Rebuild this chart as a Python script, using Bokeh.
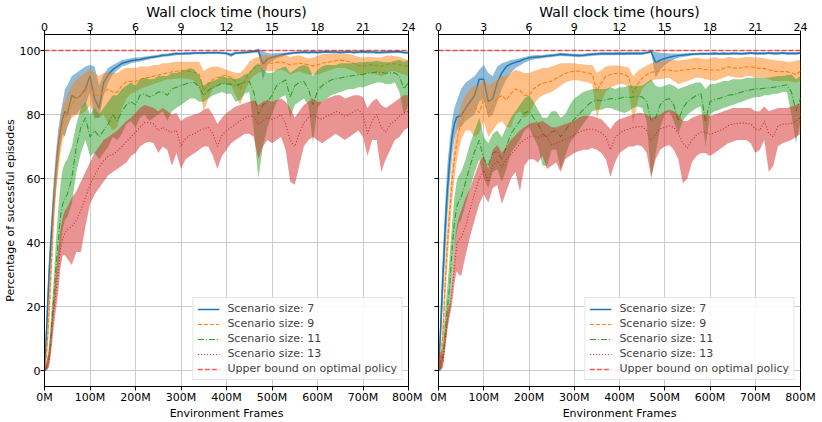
from bokeh.plotting import figure
from bokeh.models import Range1d, LinearAxis, FixedTicker, Legend, LegendItem
from bokeh.layouts import row
from bokeh.embed import file_html
from bokeh.resources import INLINE

FONT = "DejaVu Sans"

FRAMES = [0, 5, 10, 15, 20, 25, 30, 35, 40, 45,
          50, 60, 70, 80, 90, 100, 110, 120, 130, 140,
          150, 160, 170, 180, 190, 200, 210, 220, 230, 240,
          250, 260, 270, 280, 290, 300, 310, 320, 330, 340,
          350, 360, 370, 380, 390, 400, 410, 420, 430, 440,
          450, 460, 470, 480, 490, 500, 510, 520, 530, 540,
          550, 560, 570, 580, 590, 600, 610, 620, 630, 640,
          650, 660, 670, 680, 690, 700, 710, 720, 730, 740,
          750, 760, 770, 780, 790, 800]

FRAME_TICKS = [0, 100, 200, 300, 400, 500, 600, 700, 800]
FRAME_TICK_LABELS = ["0M", "100M", "200M", "300M", "400M", "500M", "600M", "700M", "800M"]
HOUR_RANGE = [0, 24]
HOUR_TICKS = [0, 3, 6, 9, 12, 15, 18, 21, 24]
Y_TICKS = [0, 20, 40, 60, 80, 100]
Y_RANGE = [-5, 105]
UPPER_BOUND = 100

SERIES_NAMES = ["Scenario size: 7", "Scenario size: 9", "Scenario size: 11", "Scenario size: 13"]
UPPER_NAME = "Upper bound on optimal policy"
X_LABEL = "Environment Frames"
TOP_LABEL = "Wall clock time (hours)"
Y_LABEL = "Percentage of sucessful episodes"

# ---------------- left panel ----------------
L7_MEAN = [0, 14, 30, 42, 53, 62, 70, 75, 79, 81,
           80, 86, 85, 86, 88, 92, 85, 82, 90, 92.5,
           94, 95, 96, 96.4, 96.8, 97, 97.2, 97.5, 97.8, 98,
           98.2, 98.5, 98.6, 98.8, 99, 99, 99.1, 99.1, 99.2, 99.2,
           99.2, 99.3, 99.3, 99.3, 99.2, 99.1, 98.6, 99.2, 99.3, 99.4,
           99.5, 99.7, 99.9, 95.8, 97.3, 97.9, 98.3, 98.6, 98.9, 99.1,
           99.3, 99.4, 99.5, 99.4, 99.5, 99.4, 99.5, 99.6, 99.5, 99.5,
           99.4, 99.5, 99.6, 99.4, 99.5, 99.6, 99.5, 99.5, 99.4, 99.4,
           99.5, 99.5, 99.6, 99.6, 99.4, 99.3]
L7_LO = [0, 9, 24, 36, 47, 56, 64, 70, 74, 73,
         76, 80, 80, 82, 83, 87, 79, 79, 86, 90,
         92.5, 93.8, 95, 95.5, 96, 96.3, 96.6, 96.9, 97.2, 97.5,
         97.7, 98, 98.1, 98.3, 98.5, 98.6, 98.7, 98.7, 98.8, 98.8,
         98.8, 98.9, 98.9, 98.9, 98.8, 98.7, 98, 98.8, 98.9, 99,
         99.1, 99.3, 99.3, 90.8, 95.5, 96.8, 97.5, 98, 98.4, 98.7,
         98.9, 99, 99.1, 99, 99.1, 99, 99.1, 99.2, 99.1, 99.1,
         99, 99.1, 99.2, 99, 99.1, 99.2, 99.1, 99.1, 99, 99,
         99.1, 99.1, 99.2, 99.2, 99, 98.9]
L7_HI = [0, 20, 36, 48, 59, 68, 75, 80, 84, 88,
         89, 92, 93, 94, 95, 95.5, 95, 89, 92.5, 94.5,
         95.5, 96.2, 97, 97.3, 97.6, 97.8, 97.9, 98.1, 98.3, 98.5,
         98.7, 99, 99.1, 99.3, 99.5, 99.4, 99.5, 99.5, 99.6, 99.6,
         99.6, 99.7, 99.7, 99.7, 99.6, 99.5, 99.2, 99.6, 99.7, 99.8,
         99.9, 100.1, 100.6, 99.8, 99.2, 99.1, 99.2, 99.3, 99.4, 99.5,
         99.7, 99.8, 99.9, 99.8, 99.9, 99.8, 99.9, 100, 99.9, 99.9,
         99.8, 99.9, 100, 99.8, 99.9, 100, 99.9, 99.9, 99.8, 99.8,
         99.9, 99.9, 100, 100, 99.8, 99.7]

L9_MEAN = [0, 6, 19, 33, 49, 60, 67, 73, 77, 79,
           81, 83, 85, 86, 87, 89, 86, 86, 87, 88,
           87, 87, 89, 90.3, 90.3, 90.3, 91, 91.4, 91.6, 92,
           92.3, 92.7, 93, 93.3, 93.5, 93.8, 93.6, 93.4, 93.2, 92.5,
           87.5, 89.5, 91, 91.5, 92, 92.3, 91.5, 90.3, 88, 90.5,
           93, 94.4, 95.3, 95.5, 96, 96, 96.3, 96.5, 96, 95.5,
           95.8, 96, 95.8, 95.5, 95.2, 95.5, 96, 96.3, 96.5, 96.8,
           97, 96.8, 96.5, 96, 95.3, 95, 95.5, 95.5, 95.2, 95,
           95.5, 96, 95.8, 95.5, 95.2, 95]
L9_LO = [0, 3, 13, 27, 43, 55, 62, 68, 72, 74,
         76, 79, 80, 80, 81, 83, 79, 79, 80, 77,
         75, 76, 82, 85, 86.5, 87, 88, 88.5, 89, 89.5,
         90, 90.5, 91, 91, 91.2, 91.3, 91.2, 91, 90.5, 88.5,
         81, 85, 88, 89, 89.5, 89.5, 89, 86, 83, 87,
         90.5, 92, 93, 93.5, 93.5, 93.5, 93.8, 94, 93.5, 92.5,
         93, 93.5, 93, 92.5, 92.5, 92.5, 93, 93.5, 94, 94.5,
         94.5, 94.5, 94, 93.5, 92.5, 92, 93, 93, 92.5, 92,
         92.5, 93.5, 93.5, 93, 92.5, 92]
L9_HI = [0, 9, 25, 40, 55, 66, 72, 78, 82, 84,
         86, 89, 91, 92, 93, 94, 93, 92, 93, 93,
         93, 93, 94, 94.5, 94.5, 94.5, 95, 95, 95, 95.5,
         95.5, 96, 96, 96.3, 96.5, 96.5, 96.5, 96.5, 96.5, 96.5,
         93.5, 94.5, 95, 95, 94.5, 94, 93.5, 93, 93, 94.5,
         96.5, 97.5, 98, 98.5, 98.5, 98.3, 98.5, 98.8, 98.5, 98,
         98.3, 98.5, 98, 97.5, 97.8, 98.3, 98.8, 99, 99, 99,
         99, 99, 98.8, 98.5, 98, 97.8, 98, 98, 97.8, 97.8,
         98.3, 98.5, 98.2, 98, 97.5, 97]

L11_MEAN = [0, 1, 4, 13, 22, 32, 40, 48, 52, 54,
            55, 60, 70, 76, 79, 73, 75, 73, 75, 77,
            80, 78, 81, 83, 84, 83, 86, 86.5, 85.5, 86,
            87, 87, 86, 88, 88.5, 89, 89.5, 90, 90, 88.5,
            86, 87.5, 88.5, 89, 89.8, 89.5, 89.5, 89, 89.5, 90,
            90.3, 87, 80, 83, 84, 86, 89, 90, 90.8, 85.5,
            89, 90, 90.3, 88, 83, 87.5, 89, 90, 90.8, 91.2,
            91.4, 91.7, 92, 92.2, 92.4, 92.6, 92.9, 93, 93.3, 93.2,
            92.9, 93, 93, 92, 88, 90]
L11_LO = [0, 0, 2, 8, 17, 25, 32, 38, 44, 47,
          48, 52, 62, 68, 72, 67, 68, 66, 68, 70,
          73, 72, 74, 77, 78, 76, 79, 80, 78, 79,
          80, 81, 78, 81, 82, 83, 84, 85, 85, 84,
          84, 85, 86, 86.5, 87, 86.5, 86.5, 84, 84.5, 86.5,
          87, 75, 60, 70, 76, 80, 84, 85.5, 86, 79,
          83, 84, 85, 83, 71, 82, 84, 85, 86, 86.5,
          87, 87.5, 88, 88, 88.5, 88.5, 89, 89.5, 90, 90,
          89.5, 89.5, 90, 87, 80, 83]
L11_HI = [0, 3, 8, 18, 28, 40, 50, 58, 63, 65,
          66, 70, 77, 82, 84, 80, 82, 80, 82, 84,
          86, 86, 88, 89, 90, 89, 91, 91.5, 91, 91,
          92, 92, 92, 93, 93, 93.5, 94, 94.5, 94, 92,
          89, 90, 90.5, 91, 92, 91.5, 91.5, 91, 91.5, 92.5,
          93, 95, 96, 94, 93, 93, 94, 94.5, 95, 93,
          94, 95, 95.5, 95, 92, 94, 95, 95.5, 95.5, 95.5,
          96, 96, 96, 96, 96.3, 96.3, 96.5, 96.5, 96.8, 96.5,
          96.3, 96.3, 96.8, 97, 96.5, 97]

L13_MEAN = [0, 1, 3, 10, 18, 24, 30, 38, 41, 43,
            44, 45, 47, 50, 54, 58, 61, 63.5, 65.5, 67,
            67.5, 68.5, 70, 71.5, 73, 74.5, 76, 77.5, 77.5, 77,
            75, 76, 75, 74.5, 75, 70, 72.5, 73.5, 74, 75,
            75.5, 76, 74, 70, 73.5, 75, 76, 77, 78, 79,
            79.5, 79.5, 77, 78, 79, 78.5, 79, 80, 77, 72,
            70, 74, 77.5, 79, 80, 79, 78.5, 79.5, 80, 81,
            80.5, 79.5, 80, 81, 81.5, 80, 74, 78, 80, 76,
            74.5, 77, 78, 79.5, 80.5, 81]
L13_LO = [0, 0, 1, 6, 13, 19, 24, 32, 36, 36,
          35, 33, 37, 37, 45, 52, 55, 57, 59, 61,
          62, 63, 64, 65, 67, 68, 70, 71, 71.5, 71,
          68, 70, 69, 64, 68, 63, 66, 67, 68, 69,
          70, 70, 67, 63, 67, 69, 71, 72, 73, 74,
          74, 73, 66, 70, 72, 71, 72, 73, 69, 59,
          58, 64, 70, 72, 73, 72, 71, 72, 73, 74,
          73, 72, 73, 74, 75, 73, 67, 72, 72, 62,
          66, 69, 72, 73, 75, 76]
L13_HI = [1, 3, 6, 14, 22, 30, 37, 44, 48, 50,
          51, 54, 56, 59, 62, 65, 68, 70, 72, 73,
          74, 75, 76.5, 78, 79, 80.5, 82, 83, 82.5, 82,
          81, 82, 81, 80, 80.5, 78, 79, 79.5, 80, 80.5,
          81.5, 82, 80, 77, 79, 80.5, 81.5, 82.5, 83, 83.5,
          84, 84.5, 83, 84, 84.5, 84, 84.5, 85, 84, 82,
          79, 81, 83, 84, 85, 84, 84, 85, 85.5, 86,
          86, 85, 85.5, 86, 86, 85.5, 82, 84, 85, 83,
          82, 83, 84, 85, 86, 86]

# ---------------- right panel ----------------
R7_MEAN = [0, 14, 30, 45, 57, 66, 73, 77, 79, 79.5,
           79.5, 82, 84, 86, 91, 91, 84, 85, 90, 93,
           95, 95.8, 96.3, 96.7, 97.3, 97.7, 97.9, 98, 98.1, 98.3,
           98.4, 98.6, 98.8, 98.7, 98.6, 98.5, 98.4, 98.5, 98.7, 98.8,
           98.9, 99, 99, 99, 99, 99.1, 99, 99.1, 99.1, 99.1,
           99.1, 99.3, 99.6, 96.2, 97, 97.5, 97.9, 98.2, 98.4, 98.6,
           98.7, 98.8, 98.9, 99, 99, 99, 99.1, 99, 99.1, 99,
           99.1, 99.1, 99, 99.1, 99.2, 99.1, 99.1, 99.1, 99.2, 99.1,
           99.1, 99.2, 99.1, 99.1, 99.1, 99.2]
R7_LO = [0, 8, 22, 36, 49, 59, 67, 72, 75, 76,
         76, 78, 79, 80, 84, 85, 79, 80, 84, 88,
         91, 93, 94.5, 95.3, 96.2, 96.8, 97.2, 97.4, 97.6, 97.8,
         97.9, 98.1, 98.3, 98.2, 98.1, 98, 97.9, 98, 98.2, 98.3,
         98.4, 98.5, 98.5, 98.5, 98.5, 98.6, 98.5, 98.6, 98.6, 98.6,
         98.6, 98.9, 99.2, 91.5, 94, 95.5, 96.5, 97.2, 97.7, 98,
         98.2, 98.4, 98.5, 98.6, 98.6, 98.6, 98.7, 98.6, 98.7, 98.6,
         98.7, 98.7, 98.6, 98.7, 98.8, 98.7, 98.7, 98.7, 98.8, 98.7,
         98.7, 98.8, 98.7, 98.7, 98.7, 98.8]
R7_HI = [0, 22, 38, 53, 65, 72, 78, 82, 84, 86,
         88, 90, 91, 92, 94, 95.5, 93, 92, 95, 96,
         96.5, 97, 97.3, 97.6, 98, 98.3, 98.5, 98.6, 98.6, 98.8,
         98.9, 99.1, 99.3, 99.2, 99.1, 99, 98.9, 99, 99.2, 99.3,
         99.4, 99.5, 99.5, 99.5, 99.5, 99.6, 99.5, 99.6, 99.6, 99.6,
         99.6, 99.7, 100.3, 99.5, 99.3, 99.2, 99.1, 99.1, 99.1, 99.1,
         99.2, 99.2, 99.3, 99.4, 99.4, 99.4, 99.5, 99.4, 99.5, 99.4,
         99.5, 99.5, 99.4, 99.5, 99.6, 99.5, 99.5, 99.5, 99.6, 99.5,
         99.5, 99.6, 99.5, 99.5, 99.5, 99.6]

R9_MEAN = [0, 3, 12, 28, 40, 50, 59, 66, 71, 75,
           77.5, 80, 81.5, 82.5, 80.5, 85, 80, 83, 85, 86,
           84.5, 86.5, 88, 87.5, 86, 86, 88, 89, 89.8, 90,
           90.5, 91.3, 92, 92.8, 93.3, 93.5, 93.6, 93.3, 93, 92.5,
           87.2, 90, 92, 92.5, 92.8, 92.9, 92.5, 91.8, 86.7, 89.5,
           91.3, 92.4, 93.2, 93.4, 93.7, 93.9, 93.9, 93.6, 93.6, 93.9,
           94, 94.2, 94.4, 94.3, 94, 93.9, 93.9, 93.9, 94.4, 94.9,
           94.6, 94.4, 94.6, 94.9, 94.9, 94.6, 94.4, 94.4, 94, 93.6,
           93.4, 93.4, 93.4, 93, 92.5, 93.5]
R9_LO = [0, 1, 8, 22, 34, 44, 53, 60, 65, 69,
         72, 75, 75, 73, 74, 78, 73, 75, 77, 78,
         76, 76, 80, 81, 79, 80, 83, 85, 86, 86.5,
         87, 88, 89, 90, 90.5, 90.8, 90.6, 90.3, 90, 89.5,
         78.5, 84, 87, 88.5, 89, 89.5, 89.5, 88.5, 77, 84,
         88, 89.5, 90.5, 91, 91, 91.3, 91.5, 90.5, 89.5, 90,
         90.5, 91, 91.5, 91.5, 91, 90.8, 90.5, 91, 91.5, 92,
         91.8, 91.5, 91.5, 92, 92, 91.5, 91.5, 91.5, 91, 90.5,
         90.5, 90.5, 90.5, 90.3, 90, 90.5]
R9_HI = [1, 6, 17, 34, 46, 56, 65, 71, 76, 80,
         83, 86, 88, 89, 89, 91, 89, 90, 91, 92,
         92, 93, 94, 93.5, 93, 93, 93.5, 94, 94.5, 94.5,
         95, 95.5, 96, 96, 96, 96, 95.8, 95.6, 95.5, 95.5,
         93, 94, 95, 95.3, 95.3, 95.3, 95, 94.8, 92, 93.5,
         94.5, 95.2, 96, 96.3, 96.5, 96.8, 97, 97, 96.8, 97,
         97.2, 97.5, 97.8, 97.5, 97.3, 97.5, 98, 97.5, 97.5, 98,
         97.8, 97.5, 97.8, 98, 98, 97.8, 97.8, 97.6, 97.3, 97,
         96.8, 96.8, 96.5, 96.5, 96.8, 97]

R11_MEAN = [0, 1, 5, 13, 20, 27, 38, 46, 51, 53,
            54, 59, 64, 68.5, 72, 66, 64, 68, 68.5, 66,
            70, 74, 76, 78, 80.5, 81, 79, 77, 74, 73,
            74.5, 75, 73, 75, 77, 78.5, 80, 81.5, 83, 84,
            84.5, 84.3, 84.6, 85, 84.7, 85, 85.5, 85.3, 85.5, 85.7,
            85.5, 84, 78, 79, 83, 84.5, 85, 83, 78, 82,
            84, 85, 86, 86.5, 78, 84, 84.6, 85, 85.5, 86,
            86.2, 86.5, 87, 87.5, 87.7, 88, 88, 88.2, 88.3, 88.5,
            88.7, 89, 89.3, 87, 81, 85]
R11_LO = [0, 0, 2, 8, 14, 20, 30, 38, 43, 46,
          47, 52, 57, 62, 66, 60, 57, 62, 63, 59,
          63, 68, 70, 72, 75, 76, 73, 70, 64, 64,
          69, 69, 63, 67, 71, 73, 75, 77, 79, 81,
          81.5, 81.5, 82, 82, 81.5, 81, 80.5, 81, 82, 82.5,
          82, 78, 60, 68, 76, 80, 81, 78, 74, 78,
          80, 81, 82, 82.5, 70, 80, 81, 81.5, 82, 82.5,
          83, 83.5, 84, 84.5, 85, 85.5, 85.5, 86, 86, 86.5,
          86.5, 87, 87, 80, 71, 78]
R11_HI = [1, 3, 9, 19, 27, 36, 46, 54, 59, 61,
          62, 66, 71, 75, 79, 73, 71, 74, 75, 73,
          76, 79, 81, 83, 85, 86, 84, 81.5, 79, 79,
          81, 81, 79, 80, 83, 85, 86, 87, 87.5, 88,
          88, 88, 88, 88.5, 88, 88.5, 88.5, 89, 89, 89,
          89, 90, 91, 89, 88.5, 89, 89.5, 89, 88, 88.5,
          89, 89.5, 90, 90, 88, 89.5, 89.5, 90, 90.5, 90.5,
          91, 91, 91, 91.5, 91.5, 91.5, 91.5, 91.5, 91.5, 91.8,
          92, 92, 92.3, 92.5, 91, 92]

R13_MEAN = [0, 3, 3, 10, 16, 19, 25, 32, 39, 41,
            41.5, 45, 50.5, 55.5, 60, 62.5, 59, 64, 65.5, 63.5,
            66, 67.5, 69, 71, 72, 73, 73.3, 72.8, 73.5, 73,
            70.5, 71, 71.5, 72.3, 72.8, 73.5, 74.5, 75, 75.4, 75.4,
            75, 74.2, 73, 69, 72.8, 74.2, 75, 75.4, 75.9, 76.2,
            76.2, 75, 71.8, 74, 75.5, 76, 76.4, 76, 74, 71,
            69.5, 72, 73.5, 74.5, 74.5, 73.8, 74.3, 74.9, 75.5, 76.5,
            77, 77.2, 77.4, 77.2, 77, 75.5, 75, 78, 74, 73,
            76.4, 77, 77, 77.2, 78, 79]
R13_LO = [0, 0, 1, 7, 13, 17, 21, 27, 31, 30,
          29.5, 36, 42, 47, 52, 55, 52.5, 57, 58, 52,
          56, 60, 62, 56, 64, 66, 66, 65, 67, 63,
          64, 65, 62, 66, 67, 68, 68.5, 69, 69, 69.5,
          69, 68, 66, 60.5, 65, 68, 69, 70, 70, 70.5,
          70, 68, 60.5, 66, 69, 70, 70.5, 69, 66, 58.5,
          60, 65, 67, 68, 68, 67, 68, 69, 70, 71,
          71.5, 72, 72, 72, 71, 68, 69, 72, 62, 64,
          70, 71, 71.5, 72, 73, 74]
R13_HI = [5, 6, 5, 13, 19, 21, 29, 38, 45, 48,
          50, 54, 57, 61, 65, 67, 63, 69, 70.5, 68,
          70, 72, 73.5, 75, 76, 77, 77.5, 77.5, 78, 77,
          76, 76, 76.5, 77, 77.5, 78, 79, 79.5, 79.5, 79.5,
          79, 78.5, 77, 75.5, 77.5, 78.5, 79, 79.5, 80, 80.5,
          80.5, 80, 79, 79.5, 80, 81, 81.5, 81, 80, 78,
          78, 79, 79.5, 80, 80, 79.5, 80, 80.5, 81, 81.5,
          82, 82, 82, 82, 82, 81, 81, 82.5, 81, 81.5,
          82, 82, 82, 82.5, 83, 83.5]

LEFT = [(L7_MEAN, L7_LO, L7_HI), (L9_MEAN, L9_LO, L9_HI),
        (L11_MEAN, L11_LO, L11_HI), (L13_MEAN, L13_LO, L13_HI)]
RIGHT = [(R7_MEAN, R7_LO, R7_HI), (R9_MEAN, R9_LO, R9_HI),
         (R11_MEAN, R11_LO, R11_HI), (R13_MEAN, R13_LO, R13_HI)]

COLORS = ["#1f77b4", "#ff7f0e", "#2ca02c", "#d62728"]
DASHES = ["solid", "4 2", "6 2 1 2", "1 2"]
WIDTHS = [1.5, 1.1, 1.1, 1.1]

H = 422


def style_axis(ax, label_size="11px"):
    ax.major_tick_out = 4
    ax.major_tick_in = 0
    ax.minor_tick_out = 0
    ax.minor_tick_in = 0
    ax.major_tick_line_color = "black"
    ax.axis_line_color = "black"
    ax.major_label_text_font = FONT
    ax.major_label_text_font_size = "11px"
    ax.major_label_text_color = "black"
    ax.axis_label_text_font = FONT
    ax.axis_label_text_font_style = "normal"
    ax.axis_label_text_font_size = label_size
    ax.axis_label_text_color = "black"
    ax.major_label_standoff = 0
    ax.axis_label_standoff = 0


def build_panel(data, show_y, width, border_left, border_right):
    p = figure(width=width, height=H,
               x_range=Range1d(FRAME_TICKS[0], FRAME_TICKS[-1]),
               y_range=Range1d(Y_RANGE[0], Y_RANGE[1]),
               output_backend="svg", toolbar_location=None,
               min_border_left=border_left, min_border_right=border_right,
               min_border_top=30, min_border_bottom=30)
    p.outline_line_color = "black"
    p.outline_line_width = 1
    p.background_fill_color = "white"
    p.border_fill_color = "white"

    p.extra_x_ranges = {"hours": Range1d(HOUR_RANGE[0], HOUR_RANGE[1])}
    top = LinearAxis(x_range_name="hours", ticker=FixedTicker(ticks=HOUR_TICKS),
                     axis_label=TOP_LABEL)
    p.add_layout(top, "above")
    style_axis(top, "14px")

    bottom = p.below[0]
    bottom.ticker = FixedTicker(ticks=FRAME_TICKS)
    bottom.major_label_overrides = dict(zip(FRAME_TICKS, FRAME_TICK_LABELS))
    bottom.axis_label = X_LABEL
    style_axis(bottom)

    left = p.left[0]
    left.ticker = FixedTicker(ticks=Y_TICKS)
    style_axis(left)
    if show_y:
        left.axis_label = Y_LABEL
    else:
        left.major_label_overrides = {t: "" for t in Y_TICKS}
        left.major_label_text_color = None

    p.xgrid.ticker = FixedTicker(ticks=FRAME_TICKS)
    p.ygrid.ticker = FixedTicker(ticks=Y_TICKS)
    p.xgrid.grid_line_color = "#cccccc"
    p.ygrid.grid_line_color = "#cccccc"
    p.xgrid.grid_line_width = 1
    p.ygrid.grid_line_width = 1

    items = []
    for (mean, lo, hi), name, c, d, w in zip(data, SERIES_NAMES, COLORS, DASHES, WIDTHS):
        p.varea(x=FRAMES, y1=lo, y2=hi, fill_color=c, fill_alpha=0.5)
        r = p.line(FRAMES, mean, line_color=c, line_width=w, line_dash=d)
        items.append(LegendItem(label=name, renderers=[r]))

    ub = p.line(FRAMES, [UPPER_BOUND] * len(FRAMES), line_color="red", line_alpha=0.65,
                line_width=1.5, line_dash="5 2")
    items.append(LegendItem(label=UPPER_NAME, renderers=[ub]))

    legend = Legend(items=items, location="bottom_right")
    legend.label_text_font = FONT
    legend.label_text_font_size = "11px"
    legend.glyph_width = 22
    legend.glyph_height = 12
    legend.label_height = 12
    legend.spacing = 2
    legend.padding = 4
    legend.margin = 6
    legend.label_standoff = 8
    legend.border_line_color = "#cccccc"
    legend.background_fill_alpha = 0.85
    p.add_layout(legend)
    return p


p_left = build_panel(LEFT, True, 422, 44, 14)
p_right = build_panel(RIGHT, False, 400, 16, 22)

layout = row(p_left, p_right)
open("out.html", "w").write(file_html(layout, INLINE))
